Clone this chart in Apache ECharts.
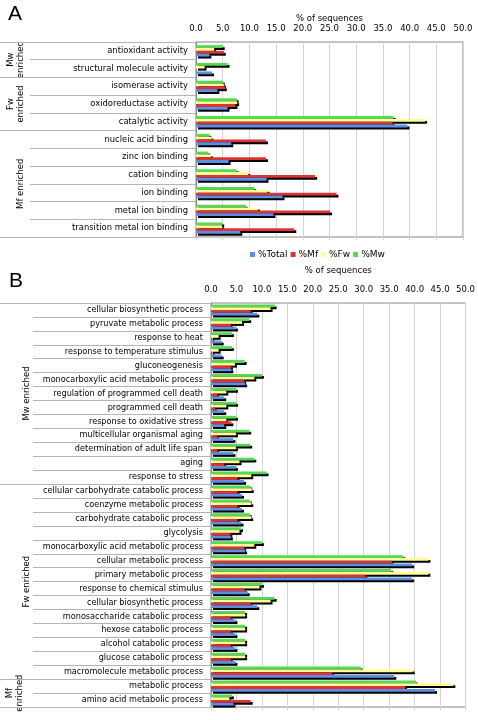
<!DOCTYPE html>
<html><head><meta charset="utf-8">
<script src="https://cdn.jsdelivr.net/npm/echarts@6/dist/echarts.min.js"></script>
<style>html,body{margin:0;padding:0;background:#fff}#c{width:478px;height:720px}</style>
</head><body><div id="c"></div>
<script>
// ---------- Panel A data ----------
const catsA = ['antioxidant activity','structural molecule activity','isomerase activity','oxidoreductase activity','catalytic activity','nucleic acid binding','zinc ion binding','cation binding','ion binding','metal ion binding','transition metal ion binding'];
const groupNamesA = ['Mw\nenriched','Fw\nenriched','Mf enriched'];
const groupSizesA = [2,3,6];
const totalA = [2.5, 3.0, 4.0, 5.9, 39.6, 6.6, 6.1, 13.2, 16.2, 14.5, 8.3];
const mfA    = [5.2, 0.0, 5.4, 7.4, 36.8, 13.1, 13.1, 22.3, 26.3, 25.1, 18.4];
const fwA    = [3.4, 1.6, 5.2, 7.7, 42.9, 2.9, 2.8, 9.8, 13.4, 11.6, 4.9];
const mwA    = [5.0, 5.9, 5.0, 7.6, 37.0, 2.5, 2.3, 7.6, 10.9, 9.3, 4.9];

// ---------- Panel B data ----------
const catsB = ['cellular biosynthetic process','pyruvate metabolic process','response to heat','response to temperature stimulus','gluconeogenesis','monocarboxylic acid metabolic process','regulation of programmed cell death','programmed cell death','response to oxidative stress','multicellular organismal aging','determination of adult life span','aging','response to stress',
'cellular carbohydrate catabolic process','coenzyme metabolic process','carbohydrate catabolic process','glycolysis','monocarboxylic acid metabolic process','cellular metabolic process','primary metabolic process','response to chemical stimulus','cellular biosynthetic process','monosaccharide catabolic process','hexose catabolic process','alcohol catabolic process','glucose catabolic process','macromolecule metabolic process',
'metabolic process','amino acid metabolic process'];
const groupNamesB = ['Mw enriched','Fw enriched','Mf\nenriched'];
const groupSizesB = [13,14,2];
const totalB = [9.1, 4.9, 2.1, 2.1, 4.0, 6.7, 2.6, 2.6, 2.6, 4.4, 4.4, 4.9, 6.5, 6.1, 6.1, 6.0, 3.9, 6.7, 39.5, 39.5, 7.2, 9.1, 4.8, 4.8, 4.8, 4.8, 36.0, 44.0, 4.4];
const mfB    = [7.8, 3.9, 0.3, 0.3, 3.9, 6.5, 1.2, 0.8, 4.0, 1.2, 1.2, 2.6, 5.2, 5.2, 5.2, 5.2, 3.8, 6.5, 35.5, 30.3, 6.6, 7.8, 3.9, 3.9, 3.9, 3.9, 23.8, 38.1, 7.8];
const fwB    = [11.7, 6.1, 1.5, 1.5, 4.7, 8.5, 3.0, 3.0, 3.0, 4.9, 4.9, 5.6, 7.9, 8.0, 7.9, 7.9, 5.6, 8.5, 42.7, 42.7, 9.5, 11.7, 6.7, 6.7, 6.7, 6.7, 39.6, 47.6, 3.6];
const mwB    = [12.5, 7.5, 4.1, 4.1, 6.6, 10.0, 4.9, 4.9, 4.9, 7.5, 7.7, 8.5, 10.9, 7.7, 7.6, 7.6, 5.9, 10.0, 37.8, 35.4, 10.0, 12.5, 6.7, 6.7, 6.7, 6.7, 29.4, 40.2, 4.1];

const seriesNames = ['%Total','%Mf','%Fw','%Mw'];
const axisTitle = '% of sequences';

// ---------- styling ----------
const FONT = 'DejaVu Sans';
const COLORS = {'%Total':'#5B8FE6','%Mf':'#DC3434','%Fw':'#FFFF99','%Mw':'#55D855'};
const BORDER = '#868686', GRID = '#D4D4D4', SEP = '#B4B4B4';

function starts(sizes){ const s=[]; let a=0; sizes.forEach(n=>{s.push(a); a+=n;}); return s; }
const startsA = starts(groupSizesA), startsB = starts(groupSizesB);

const chart = echarts.init(document.getElementById('c'), null, {renderer:'canvas'});

const grids = [
  {left:196, top:42, width:267, height:195, show:true, borderColor:BORDER, borderWidth:1, backgroundColor:'transparent'},
  {left:211, top:303, width:256, height:404, show:true, borderColor:BORDER, borderWidth:1, backgroundColor:'transparent'}
];

function topX(gi, nameGap){
  return {type:'value', gridIndex:gi, position:'top', min:0, max:50, interval:5,
    name:axisTitle, nameLocation:'middle', nameGap:nameGap,
    nameTextStyle:{fontFamily:FONT, fontSize:8.5, color:'#000'},
    axisLine:{show:false}, axisTick:{show:false},
    axisLabel:{fontFamily:FONT, fontSize:8.5, color:'#000', margin:9, formatter:v=>v.toFixed(1)},
    splitLine:{show:true, lineStyle:{color:GRID, width:1}}};
}
function botX(gi){
  return {type:'value', gridIndex:gi, position:'bottom', min:0, max:50, interval:5,
    axisLine:{show:false}, axisLabel:{show:false}, splitLine:{show:false},
    axisTick:{show:true, length:3, lineStyle:{color:GRID}}};
}
function catY(gi, cats, fs, tickLen){
  return {type:'category', gridIndex:gi, position:'left', inverse:true, data:cats,
    axisLine:{show:true, lineStyle:{color:BORDER}},
    axisTick:{show:true, length:tickLen, interval:0, lineStyle:{color:SEP}},
    axisLabel:{fontFamily:FONT, fontSize:fs, color:'#000', margin:8, interval:0},
    splitLine:{show:false}};
}
function grpY(gi, cats, st, tickLen){
  return {type:'category', gridIndex:gi, position:'left', inverse:true, data:cats,
    axisLine:{show:false}, axisLabel:{show:false}, splitLine:{show:false},
    axisTick:{show:true, length:tickLen, interval:(i)=>st.indexOf(i)>=0, lineStyle:{color:SEP}}};
}

function barSeries(name, data, xi, yi, gap){
  return {type:'bar', name:name, data:data, xAxisIndex:xi, yAxisIndex:yi,
    barGap:'0%', barCategoryGap:gap, animation:false,
    itemStyle:{color:COLORS[name], shadowColor:'#000', shadowOffsetX:2, shadowOffsetY:2, shadowBlur:0}};
}
// draw order: top bar (%Mw) first, bottom bar (%Total) last
const orderA = [['%Mw',mwA],['%Fw',fwA],['%Mf',mfA],['%Total',totalA]];
const orderB = [['%Mw',mwB],['%Fw',fwB],['%Mf',mfB],['%Total',totalB]];
const series = [];
orderA.forEach(([n,d])=>series.push(barSeries(n,d,0,0,'36%')));
orderB.forEach(([n,d])=>series.push(barSeries(n,d,2,2,'20%')));

chart.setOption({
  animation:false,
  textStyle:{fontFamily:FONT},
  grid:grids,
  xAxis:[topX(0,19), botX(0), topX(1,28), botX(1)],
  yAxis:[catY(0,catsA,8.4,166), grpY(0,catsA,startsA,196), catY(1,catsB,8.15,178), grpY(1,catsB,startsB,211)],
  legend:{data:seriesNames, left:245, top:245, itemWidth:5, itemHeight:5, itemGap:3, icon:'rect',
    textStyle:{fontFamily:FONT, fontSize:9, color:'#000', padding:[0,0,0,-2]},
    itemStyle:{shadowBlur:0, shadowOffsetX:0, shadowOffsetY:0, shadowColor:'rgba(0,0,0,0)'}},
  series:series
});

// group labels positioned through the category axes
function groupLabels(yi, names, sizes, st, xCenter){
  return names.map((nm,k)=>{
    const a = chart.convertToPixel({yAxisIndex:yi}, st[k]);
    const b = chart.convertToPixel({yAxisIndex:yi}, st[k]+sizes[k]-1);
    return {type:'text', x:xCenter, y:(a+b)/2, rotation:Math.PI/2,
      style:{text:nm, align:'center', verticalAlign:'middle', font:'8.5px "DejaVu Sans"', fill:'#000', lineHeight:10}};
  });
}
const gA = groupLabels(0, groupNamesA, groupSizesA, startsA, 16);
gA[2].x = 21;
const gB = groupLabels(2, groupNamesB, groupSizesB, startsB, 27);
gB[2].x = 15;
chart.setOption({graphic:[
  {type:'text', x:8, y:4, style:{text:'A', font:'21px "Liberation Sans"', fill:'#000'}},
  {type:'text', x:9, y:271, style:{text:'B', font:'21px "Liberation Sans"', fill:'#000'}},
  ...gA, ...gB
]});
</script></body></html>
